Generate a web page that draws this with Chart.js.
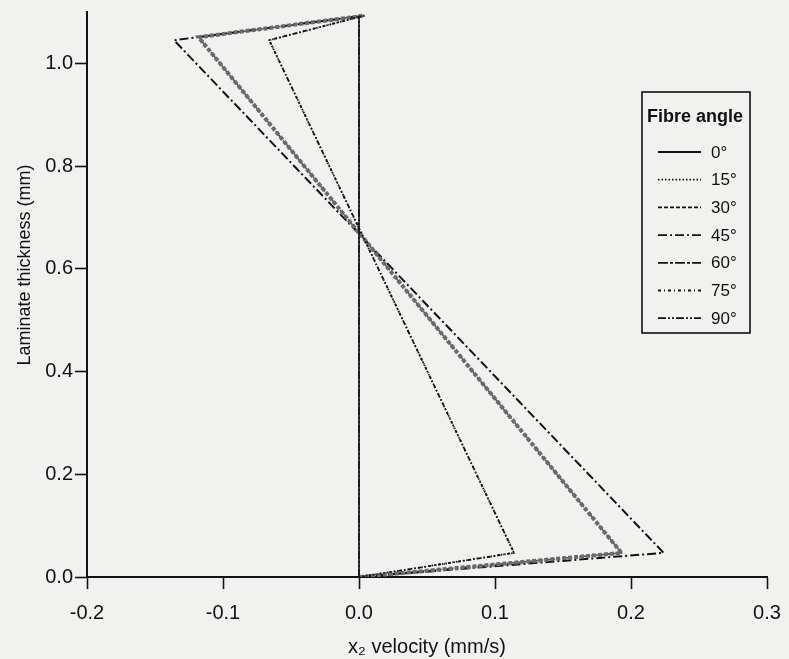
<!DOCTYPE html>
<html>
<head>
<meta charset="utf-8">
<script src="https://cdn.jsdelivr.net/npm/chart.js@4"></script>
<style>
  html, body { margin: 0; padding: 0; background: #f1f1ef; }
  #wrap { width: 789px; height: 659px; position: relative; }
</style>
</head>
<body>
<div id="wrap"><canvas id="myChart" width="789" height="659"></canvas></div>
<script>
// fibre angles (legend labels)
const angles = ['0°', '15°', '30°', '45°', '60°', '75°', '90°'];

// x2 velocity (mm/s) for each fibre angle
const vel0  = [0, 0];
const vel15 = [0, 0.114, -0.066, 0.004];
const vel30 = [0, 0.193, -0.118, 0.004];
const vel45 = [0, 0.224, -0.136, 0.004];
const vel60 = [0, 0.193, -0.118, 0.004];
const vel75 = [0, 0.114, -0.066, 0.004];
const vel90 = [0, 0];

// laminate thickness (mm) of the same points
const thick0  = [0, 1.093];
const thick15 = [0, 0.047, 1.045, 1.093];
const thick30 = [0, 0.047, 1.051, 1.093];
const thick45 = [0, 0.047, 1.045, 1.093];
const thick60 = [0, 0.047, 1.051, 1.093];
const thick75 = [0, 0.047, 1.045, 1.093];
const thick90 = [0, 1.093];

const xTicks = [-0.2, -0.1, 0.0, 0.1, 0.2, 0.3];
const yTicks = [0.0, 0.2, 0.4, 0.6, 0.8, 1.0];

function pts(xs, ys) {
    return xs.map((x, i) => ({ x: x, y: ys[i] }));
}

const styles = [
    { color: '#111', width: 1.6, dash: [] },
    { color: '#111', width: 1.8, dash: [1.5, 2] },
    { color: '#6a6a6a', width: 4, dash: [4, 2] },
    { color: '#111', width: 2, dash: [9, 3, 2, 3] },
    { color: '#555', width: 1.6, dash: [10, 2, 3, 2] },
    { color: '#111', width: 1.8, dash: [3, 3, 1, 3] },
    { color: '#111', width: 1.6, dash: [8, 2, 2, 2, 2, 2] }
];

const series = [
    pts(vel0, thick0), pts(vel15, thick15), pts(vel30, thick30), pts(vel45, thick45),
    pts(vel60, thick60), pts(vel75, thick75), pts(vel90, thick90)
];

const FONT = '"Liberation Sans", Arial, sans-serif';

// legend box and y title drawn by hand (dash patterns, off-centre title)
const legendBox = {
    id: 'legendBox',
    afterDraw(chart) {
        const c = chart.ctx;
        const left = 642, top = 92, right = 750, bottom = 333;
        c.save();
        c.strokeStyle = '#111';
        c.lineWidth = 1.6;
        c.setLineDash([]);
        c.strokeRect(left, top, right - left, bottom - top);
        c.fillStyle = '#111';
        c.font = 'bold 18px ' + FONT;
        c.textBaseline = 'middle';
        c.fillText('Fibre angle', left + 5, 117);
        c.font = '17px ' + FONT;
        angles.forEach((a, i) => {
            const y = 152 + i * 27.7;
            const st = styles[i];
            c.beginPath();
            c.strokeStyle = '#111';
            c.lineWidth = 1.8;
            c.setLineDash(st.dash);
            c.moveTo(658, y);
            c.lineTo(701, y);
            c.stroke();
            c.setLineDash([]);
            c.fillStyle = '#111';
            c.fillText(a, 711, y + 1);
        });

        c.translate(25, 265);
        c.rotate(-Math.PI / 2);
        c.textAlign = 'center';
        c.font = '18px ' + FONT;
        c.fillText('Laminate thickness (mm)', 0, 0);
        c.restore();
    }
};

new Chart(document.getElementById('myChart').getContext('2d'), {
    type: 'line',
    data: {
        datasets: angles.map((a, i) => ({
            label: a,
            data: series[i],
            borderColor: styles[i].color,
            borderWidth: styles[i].width,
            borderDash: styles[i].dash,
            pointRadius: 0,
            fill: false,
            tension: 0
        }))
    },
    options: {
        responsive: false,
        animation: false,
        layout: { padding: { top: 12, right: 22, left: 0, bottom: 0 } },
        plugins: {
            legend: { display: false },
            tooltip: { enabled: false }
        },
        scales: {
            x: {
                type: 'linear',
                min: -0.2,
                max: 0.3,
                afterBuildTicks: s => { s.ticks = xTicks.map(v => ({ value: v })); },
                afterFit: s => { s.height = 82; s.paddingLeft = 0; s.paddingRight = 0; },
                ticks: {
                    color: '#111',
                    font: { family: FONT, size: 20 },
                    padding: 12,
                    maxRotation: 0,
                    callback: v => v.toFixed(1)
                },
                grid: { drawOnChartArea: false, tickLength: 12, tickColor: '#111', tickWidth: 1.6 },
                border: { display: true, color: '#111', width: 2 },
                title: {
                    display: true,
                    text: 'x₂ velocity (mm/s)',
                    color: '#111',
                    font: { family: FONT, size: 20 },
                    padding: { top: 0, bottom: 0 }
                }
            },
            y: {
                type: 'linear',
                min: 0,
                max: 1.1,
                afterBuildTicks: s => { s.ticks = yTicks.map(v => ({ value: v })); },
                afterFit: s => { s.width = 87; s.paddingTop = 0; s.paddingBottom = 0; },
                ticks: {
                    color: '#111',
                    font: { family: FONT, size: 20 },
                    padding: 2,
                    callback: v => v.toFixed(1)
                },
                grid: { drawOnChartArea: false, tickLength: 12, tickColor: '#111', tickWidth: 1.6 },
                border: { display: true, color: '#111', width: 2 }
            }
        }
    },
    plugins: [legendBox]
});
</script>
</body>
</html>
